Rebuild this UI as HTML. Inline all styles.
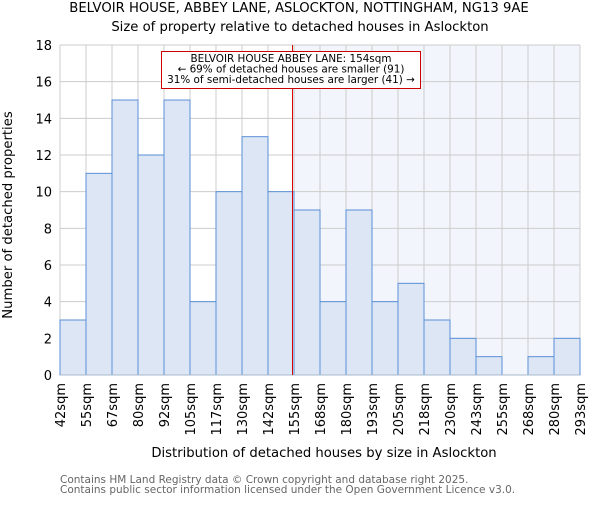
<!DOCTYPE html>
<html><head><meta charset="utf-8"><style>
body{margin:0;background:#fff}
svg{font-family:"DejaVu Sans","Liberation Sans",sans-serif}
</style></head><body>
<svg id="chart" width="600" height="500" viewBox="0 0 600 500">
<text x="299" y="12" text-anchor="middle" font-size="13.2" fill="#000">BELVOIR HOUSE, ABBEY LANE, ASLOCKTON, NOTTINGHAM, NG13 9AE</text>
<text x="300" y="31" text-anchor="middle" font-size="13.2" fill="#000">Size of property relative to detached houses in Aslockton</text>
<g id="plot"></g>
<text transform="translate(12,215) rotate(-90)" text-anchor="middle" font-size="13.2">Number of detached properties</text>
<text x="324" y="457" text-anchor="middle" font-size="13.2">Distribution of detached houses by size in Aslockton</text>
<text x="60" y="483" font-size="10.5" fill="#666">Contains HM Land Registry data © Crown copyright and database right 2025.</text>
<text x="60" y="493" font-size="10.5" fill="#666">Contains public sector information licensed under the Open Government Licence v3.0.</text>
</svg>
<script>
const edgeLabels=[42,55,67,80,92,105,117,130,142,155,168,180,193,205,218,230,243,255,268,280,293];
const counts=[3,11,15,12,15,4,10,13,10,9,4,9,4,5,3,2,1,0,1,2];
const yTicks=[0,2,4,6,8,10,12,14,16,18];
const markerValue=154;
const L=60,R=580,T=45,B=375,yMax=18;
const n=counts.length,bw=(R-L)/n;
const ys=v=>B-(v/yMax)*(B-T);
const xe=i=>L+i*bw;
function xv(v){for(let i=0;i<edgeLabels.length-1;i++){if(v<=edgeLabels[i+1])return xe(i)+bw*(v-edgeLabels[i])/(edgeLabels[i+1]-edgeLabels[i]);}return R;}
const NS="http://www.w3.org/2000/svg",g=document.getElementById('plot');
function mk(t,a){const e=document.createElementNS(NS,t);for(const k in a)e.setAttribute(k,a[k]);g.appendChild(e);return e;}
const mx=Math.round(xv(markerValue))+0.5;
let sh=mk('rect',{x:mx,y:T,width:R-mx,height:B-T,fill:'#f2f5fc'});


yTicks.forEach(v=>{let l=mk('line',{x1:L,x2:R,y1:ys(v),y2:ys(v),stroke:'#ccc'});


let t=mk('text',{x:L-8,y:ys(v)+5,'text-anchor':'end','font-size':13});t.textContent=v;

});
edgeLabels.forEach((v,i)=>{let l=mk('line',{x1:xe(i),x2:xe(i),y1:T,y2:B,stroke:'#ccc'});


let t=mk('text',{transform:`translate(${xe(i)+5},${B+8}) rotate(-90)`,'text-anchor':'end','font-size':13});t.textContent=v+'sqm';

});
counts.forEach((c,i)=>{if(c<=0)return;let r=mk('rect',{x:xe(i),y:ys(c),width:bw,height:B-ys(c),fill:'#dce6f5',stroke:'#5a8fd6','stroke-width':1});

});
let ax=mk('line',{x1:L,x2:R,y1:B,y2:B,stroke:'#aab8cc'});


let ml=mk('line',{x1:mx,x2:mx,y1:T,y2:B,stroke:'#dd0000','stroke-width':1});


let box=mk('rect',{x:161.5,y:51.5,width:259,height:37,fill:'#fff',stroke:'#cc0000'});


['BELVOIR HOUSE ABBEY LANE: 154sqm','← 69% of detached houses are smaller (91)','31% of semi-detached houses are larger (41) →'].forEach((s,i)=>{let t=mk('text',{x:291,y:62+i*10.5,'text-anchor':'middle','font-size':10.4});t.textContent=s;

});
</script>
</body></html>
